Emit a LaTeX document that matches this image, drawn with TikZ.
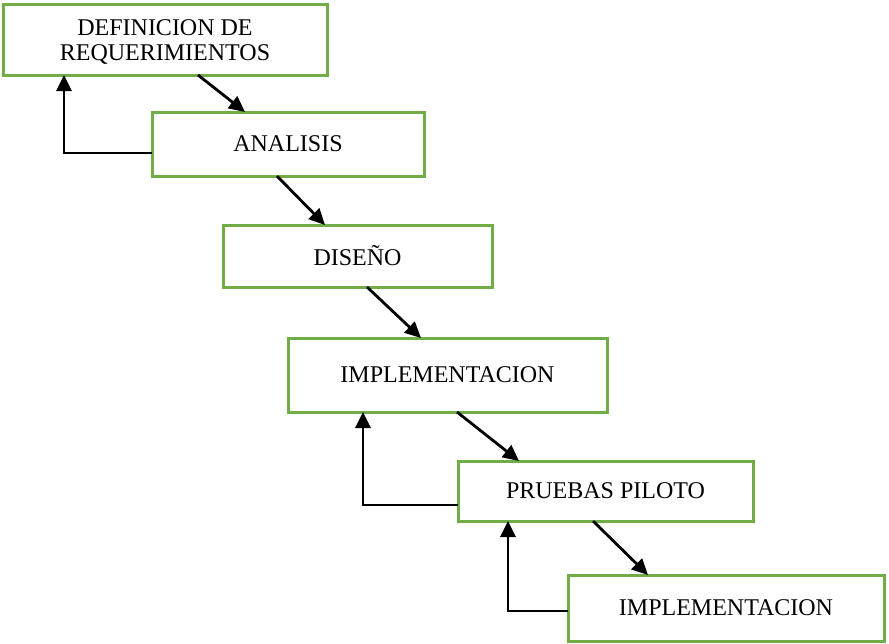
\documentclass[tikz,border=0pt]{standalone}
\usepackage{fontspec}
\setmainfont{Liberation Serif}
\usetikzlibrary{arrows.meta}
\definecolor{boxgreen}{RGB}{112,173,71}
\begin{document}
\begin{tikzpicture}[x=1pt,y=-1pt,
  stagebox/.style={draw=boxgreen,line width=3pt,fill=white,rectangle,inner sep=0pt,outer sep=0pt,
    align=center,font=\fontsize{24}{25}\selectfont},
  stagetext/.style={inner sep=0pt,align=center,font=\fontsize{24}{25}\selectfont},
  arr/.style={draw=black,line width=2.8pt,-{Triangle[length=16pt,width=15pt]}},
  fb/.style={arr}]
\useasboundingbox (0,0) rectangle (889,643);
\node[stagebox,minimum width=324pt,minimum height=71pt] (b1) at (165,39.5) {};
\node[stagetext] (b1text) at (165,42) {DEFINICION DE\\REQUERIMIENTOS};
\node[stagebox,minimum width=272pt,minimum height=64pt] (b2) at (288,144) {ANALISIS};
\node[stagebox,minimum width=269pt,minimum height=62pt] (b3) at (357.5,256) {DISEÑO};
\node[stagebox,minimum width=319pt,minimum height=74pt] (b4) at (447.5,375) {IMPLEMENTACION};
\node[stagebox,minimum width=295pt,minimum height=60pt] (b5) at (605.5,491) {PRUEBAS PILOTO};
\node[stagebox,minimum width=316pt,minimum height=66pt] (b6) at (726,608) {IMPLEMENTACION};
% forward arrows
\draw[arr] (b1.south -| 198,0) -- (b2.north -| 245,0);
\draw[arr] (b2.south -| 277,0) -- (b3.north -| 325,0);
\draw[arr] (b3.south -| 367,0) -- (b4.north -| 421,0);
\draw[arr] (b4.south -| 457,0) -- (b5.north -| 519,0);
\draw[arr] (b5.south -| 593,0) -- (b6.north -| 648,0);
% feedback arrows
\draw[fb] (b2.west |- 0,153) -| (b1.south -| 64,0);
\draw[fb] (b5.west |- 0,505) -| (b4.south -| 363,0);
\draw[fb] (b6.west |- 0,611) -| (b5.south -| 508,0);
\end{tikzpicture}
\end{document}
